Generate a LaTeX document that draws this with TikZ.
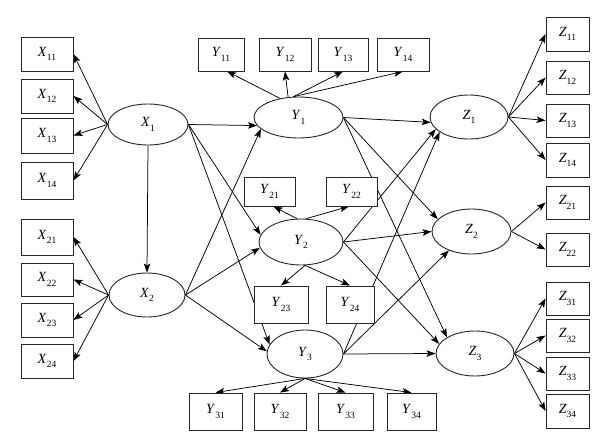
\documentclass[tikz,border=0pt]{standalone}
\usepackage{fontspec}
\setmainfont{Liberation Serif}
\usetikzlibrary{shapes.geometric,arrows.meta,backgrounds}
\newcommand\varlab[2]{\textit{#1}\raisebox{-4.5pt}{\fontsize{9.5}{10}\selectfont #2}}
\tikzset{
  box/.style={draw=black!85, fill=white, inner sep=0pt, line width=0.9pt},
  ell/.style={ellipse, draw=black!85, fill=white, inner sep=0pt, line width=0.9pt},
  arr/.style={-{Stealth[length=9pt,width=6.5pt,inset=2pt]}, line width=0.75pt},
}
\begin{document}
\begin{tikzpicture}[x=1pt,y=-1pt,font=\fontsize{14}{16}\selectfont]
\useasboundingbox (0,0) rectangle (606,445);
% X indicator boxes
\node[box,minimum width=52pt,minimum height=34pt] (X11) at (47,54) {\varlab{X}{11}};
\node[box,minimum width=52pt,minimum height=34pt] (X12) at (47,96) {\varlab{X}{12}};
\node[box,minimum width=52pt,minimum height=35pt] (X13) at (47,135.5) {\varlab{X}{13}};
\node[box,minimum width=52pt,minimum height=37pt] (X14) at (47,180.5) {\varlab{X}{14}};
\node[box,minimum width=52pt,minimum height=36pt] (X21) at (47,237) {\varlab{X}{21}};
\node[box,minimum width=52pt,minimum height=33pt] (X22) at (47,279.5) {\varlab{X}{22}};
\node[box,minimum width=52pt,minimum height=34pt] (X23) at (47,320) {\varlab{X}{23}};
\node[box,minimum width=52pt,minimum height=34pt] (X24) at (47,361) {\varlab{X}{24}};
% Y indicator boxes
\node[box,minimum width=46pt,minimum height=33pt] (Y11) at (221,54.5) {\varlab{Y}{11}};
\node[box,minimum width=52pt,minimum height=33pt] (Y12) at (285,54.5) {\varlab{Y}{12}};
\node[box,minimum width=50pt,minimum height=33pt] (Y13) at (343,54.5) {\varlab{Y}{13}};
\node[box,minimum width=52pt,minimum height=33pt] (Y14) at (403,54.5) {\varlab{Y}{14}};
\node[box,minimum width=51pt,minimum height=29pt] (Y21) at (269.5,191.5) {\varlab{Y}{21}};
\node[box,minimum width=51pt,minimum height=29pt] (Y22) at (351.5,191.5) {\varlab{Y}{22}};
\node[box,minimum width=54pt,minimum height=37pt] (Y23) at (281,304.5) {\varlab{Y}{23}};
\node[box,minimum width=48pt,minimum height=37pt] (Y24) at (350,304.5) {\varlab{Y}{24}};
\node[box,minimum width=53pt,minimum height=37pt] (Y31) at (215.5,411.5) {\varlab{Y}{31}};
\node[box,minimum width=52pt,minimum height=37pt] (Y32) at (280,411.5) {\varlab{Y}{32}};
\node[box,minimum width=55pt,minimum height=37pt] (Y33) at (345.5,411.5) {\varlab{Y}{33}};
\node[box,minimum width=49pt,minimum height=37pt] (Y34) at (411.5,411.5) {\varlab{Y}{34}};
% Z indicator boxes
\node[box,minimum width=43pt,minimum height=34pt] (Z11) at (567.5,34) {\varlab{Z}{11}};
\node[box,minimum width=43pt,minimum height=33pt] (Z12) at (567.5,77.5) {\varlab{Z}{12}};
\node[box,minimum width=43pt,minimum height=33pt] (Z13) at (567.5,120.5) {\varlab{Z}{13}};
\node[box,minimum width=43pt,minimum height=34pt] (Z14) at (567.5,160) {\varlab{Z}{14}};
\node[box,minimum width=43pt,minimum height=33pt] (Z21) at (567.5,202.5) {\varlab{Z}{21}};
\node[box,minimum width=43pt,minimum height=33pt] (Z22) at (567.5,249.5) {\varlab{Z}{22}};
\node[box,minimum width=43pt,minimum height=33pt] (Z31) at (567.5,298.5) {\varlab{Z}{31}};
\node[box,minimum width=43pt,minimum height=33pt] (Z32) at (567.5,335.5) {\varlab{Z}{32}};
\node[box,minimum width=43pt,minimum height=33pt] (Z33) at (567.5,373.5) {\varlab{Z}{33}};
\node[box,minimum width=43pt,minimum height=34pt] (Z34) at (567.5,411) {\varlab{Z}{34}};
% latent ellipses
\node[ell,minimum width=80pt,minimum height=41pt] (X1) at (148,124.5) {\varlab{X}{1}};
\node[ell,minimum width=76pt,minimum height=44pt] (X2) at (147,295) {\varlab{X}{2}};
\node[ell,minimum width=89pt,minimum height=41pt] (Y1) at (298.5,117.5) {\varlab{Y}{1}};
\node[ell,minimum width=84pt,minimum height=46pt] (Y2) at (301,242) {\varlab{Y}{2}};
\node[ell,minimum width=76pt,minimum height=48pt] (Y3) at (305,354) {\varlab{Y}{3}};
\node[ell,minimum width=78pt,minimum height=44pt] (Z1) at (469,117) {\varlab{Z}{1}};
\node[ell,minimum width=79pt,minimum height=45pt] (Z2) at (471.5,231.5) {\varlab{Z}{2}};
\node[ell,minimum width=78pt,minimum height=45pt] (Z3) at (475,353.5) {\varlab{Z}{3}};
\begin{pgfonlayer}{background}
% measurement arrows
\foreach \i in {11,12,13,14} \draw[arr] (X1.west) -- (X\i.east);
\foreach \i in {21,22,23,24} \draw[arr] (X2.west) -- (X\i.east);
\draw[arr] (Y1.134) -- (Y11.-70);
\draw[arr] (Y1.117) -- (Y12.south);
\draw[arr] (Y1.104) -- (Y13.south);
\draw[arr] (Y1.104) -- (Y14.south);
\draw[arr] (Y2.100) -- (Y21.-75);
\draw[arr] (Y2.78) -- (Y22.-100);
\draw[arr] (Y2.-80) -- (Y23.north);
\draw[arr] (Y2.-80) -- (Y24.north);
\foreach \i in {31,32,33,34} \draw[arr] (Y3.south) -- (Y\i.north);
\foreach \i in {11,12,13,14} \draw[arr] (Z1.east) -- (Z\i.west);
\foreach \i in {21,22} \draw[arr] (Z2.east) -- (Z\i.west);
\foreach \i in {31,32,33,34} \draw[arr] (Z3.east) -- (Z\i.west);
% structural arrows
\draw[arr] (X1.south) -- (X2.north);
\draw[arr] (X1.east) -- (Y1.191);
\draw[arr] (X1.east) -- (Y2.170);
\draw[arr] (X1.east) -- (Y3.165);
\draw[arr] (X2.east) -- (Y1.197);
\draw[arr] (X2.east) -- (Y2.188);
\draw[arr] (X2.east) -- (Y3.176);
\draw[arr] (Y1.east) -- (Z1.188);
\draw[arr] (Y1.east) -- (Z2.160);
\draw[arr] (Y1.east) -- (Z3.150);
\draw[arr] (Y2.east) -- (Z1.200);
\draw[arr] (Y2.east) -- (Z2.west);
\draw[arr] (Y2.east) -- (Z3.165);
\draw[arr] (Y3.east) -- (Z1.207);
\draw[arr] (Y3.east) -- (Z2.220);
\draw[arr] (Y3.east) -- (Z3.west);
\end{pgfonlayer}
\end{tikzpicture}
\end{document}
